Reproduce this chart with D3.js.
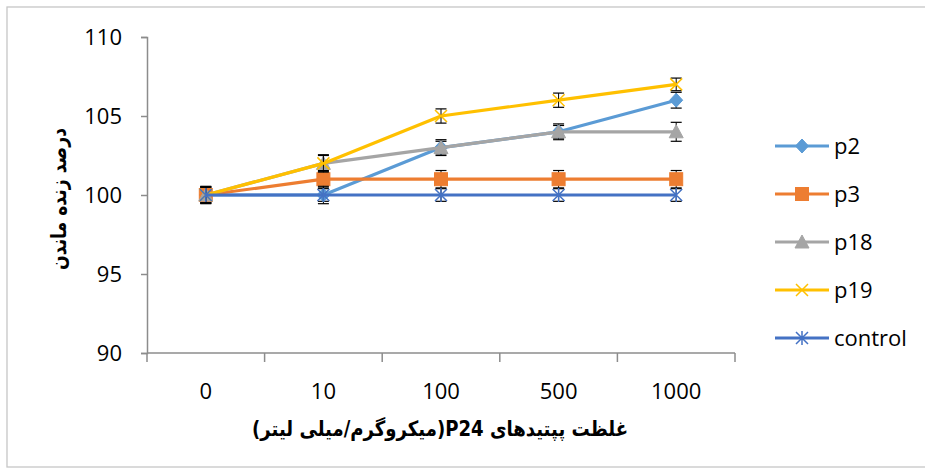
<!DOCTYPE html>
<html><head><meta charset="utf-8">
<script src="https://cdn.jsdelivr.net/npm/d3@7"></script>
<style>body{margin:0;background:#fff}svg{display:block}</style>
</head><body>
<script>
const categories = ["0","10","100","500","1000"];
const seriesNames = ["p2","p3","p18","p19","control"];
const p2 = [100,100,103,104,106];
const p3 = [100,101,101,101,101];
const p18 = [100,102,103,104,104];
const p19 = [100,102,105,106,107];
const control = [100,100,100,100,100];
const p2Err = [0.5,0.4,0.4,0.4,0.5];
const p3Err = [0.5,0.55,0.55,0.55,0.55];
const p18Err = [0.5,0.5,0.5,0.5,0.6];
const p19Err = [0.5,0.55,0.45,0.45,0.4];
const controlErr = [0.55,0.55,0.4,0.4,0.4];
const yTicks = [90,95,100,105,110];
const yLabel = "درصد زنده ماندن";
const xLabel = "غلظت پپتیدهای  P24(میکروگرم/میلی لیتر)";

const series = [
  {name:"p2", values:p2, err:p2Err, color:"#5B9BD5", marker:"diamond"},
  {name:"p3", values:p3, err:p3Err, color:"#ED7D31", marker:"square"},
  {name:"p18", values:p18, err:p18Err, color:"#A5A5A5", marker:"triangle"},
  {name:"p19", values:p19, err:p19Err, color:"#FFC000", marker:"x"},
  {name:"control", values:control, err:controlErr, color:"#4472C4", marker:"star"}
];

const W = 925, H = 474;
const svg = d3.select("body").append("svg").attr("width",W).attr("height",H);
svg.append("rect").attr("x",7).attr("y",7).attr("width",W+10).attr("height",460)
  .attr("fill","#fff").attr("stroke","#c6c6c6").attr("stroke-width",1.3);

const x = d3.scaleBand().domain(categories).range([147,735]).padding(0);
const y = d3.scaleLinear().domain([90,110]).range([353,37]);
const cx = c => x(c) + x.bandwidth()/2;
const font = "'Open Sans', 'Liberation Sans', sans-serif";
const axisColor = "#8c8c8c";

// y axis
const ya = svg.append("g").attr("transform","translate(147,0)")
  .call(d3.axisLeft(y).tickValues(yTicks).tickSize(6).tickPadding(19).tickFormat(d3.format("d")));
ya.select(".domain").attr("stroke",axisColor).attr("stroke-width",1.5);
ya.selectAll(".tick line").attr("stroke",axisColor).attr("stroke-width",1.5);
ya.selectAll(".tick text").attr("font-family",font).attr("font-size",22).attr("fill","#000");

// x axis
const xa = svg.append("g").attr("transform","translate(0,353)")
  .call(d3.axisBottom(x).tickSize(0).tickPadding(30));
xa.select(".domain").remove();
xa.selectAll(".tick text").attr("font-family",font).attr("font-size",22).attr("fill","#000");
svg.append("line").attr("x1",x.range()[0]).attr("x2",x.range()[1]).attr("y1",353).attr("y2",353)
  .attr("stroke",axisColor).attr("stroke-width",1.5);
const edges = categories.map(c=>x(c)).concat([x.range()[1]]);
svg.selectAll(".xt").data(edges).enter().append("line")
  .attr("x1",d=>d).attr("x2",d=>d).attr("y1",353).attr("y2",362)
  .attr("stroke",axisColor).attr("stroke-width",1.5);

// labels
svg.append("text").attr("transform","translate(60,199) rotate(-90)")
  .attr("text-anchor","middle").attr("direction","rtl").attr("dominant-baseline","middle")
  .attr("font-family","'DejaVu Sans', sans-serif").attr("font-weight","bold").attr("font-size",21)
  .attr("textLength",142).attr("lengthAdjust","spacingAndGlyphs")
  .text(yLabel);
svg.append("text").attr("x",440).attr("y",436)
  .attr("text-anchor","middle").attr("direction","rtl")
  .attr("font-family","'DejaVu Sans', sans-serif").attr("font-weight","bold").attr("font-size",21)
  .attr("textLength",376).attr("lengthAdjust","spacingAndGlyphs")
  .text(xLabel);

function drawMarker(g, type, color, px, py){
  const s = 6.5;
  if(type==="diamond"){
    g.append("path").attr("d",`M${px},${py-s-0.5}L${px+s},${py}L${px},${py+s+0.5}L${px-s},${py}Z`).attr("fill",color).attr("stroke",color);
  } else if(type==="square"){
    g.append("rect").attr("x",px-6.5).attr("y",py-6.5).attr("width",13).attr("height",13).attr("fill",color).attr("stroke",color);
  } else if(type==="triangle"){
    g.append("path").attr("d",`M${px},${py-7}L${px+7},${py+6}L${px-7},${py+6}Z`).attr("fill",color).attr("stroke",color);
  } else if(type==="x"){
    g.append("path").attr("d",`M${px-6},${py-6}L${px+6},${py+6}M${px+6},${py-6}L${px-6},${py+6}`).attr("stroke",color).attr("stroke-width",1.5).attr("fill","none");
  } else if(type==="star"){
    g.append("path").attr("d",`M${px-6},${py-6}L${px+6},${py+6}M${px+6},${py-6}L${px-6},${py+6}M${px},${py-7}L${px},${py+7}`).attr("stroke",color).attr("stroke-width",1.5).attr("fill","none");
  }
}

const line = d3.line().x((d,i)=>cx(categories[i])).y(d=>y(d));
series.forEach(s=>{
  const g = svg.append("g");
  g.append("path").datum(s.values).attr("d",line).attr("fill","none")
    .attr("stroke",s.color).attr("stroke-width",3.2).attr("stroke-linejoin","round");
  s.values.forEach((v,i)=>{
    const px = cx(categories[i]);
    const y1 = y(v + s.err[i]), y2 = y(v - s.err[i]);
    g.append("line").attr("x1",px).attr("x2",px).attr("y1",y1).attr("y2",y2).attr("stroke","#000").attr("stroke-width",1);
    g.append("line").attr("x1",px-5.5).attr("x2",px+5.5).attr("y1",y1).attr("y2",y1).attr("stroke","#000").attr("stroke-width",1.2);
    g.append("line").attr("x1",px-5.5).attr("x2",px+5.5).attr("y1",y2).attr("y2",y2).attr("stroke","#000").attr("stroke-width",1.2);
  });
  s.values.forEach((v,i)=>drawMarker(g, s.marker, s.color, cx(categories[i]), y(v)));
});

// legend
const legY = d3.scalePoint().domain(seriesNames).range([146,338]);
series.forEach(s=>{
  const ly = legY(s.name);
  const g = svg.append("g");
  g.append("line").attr("x1",775).attr("x2",829).attr("y1",ly).attr("y2",ly).attr("stroke",s.color).attr("stroke-width",3.2);
  drawMarker(g, s.marker, s.color, 802, ly);
  g.append("text").attr("x",834).attr("y",ly).attr("dy","0.35em").attr("font-family",font).attr("font-size",22).text(s.name);
});
</script>
</body></html>
